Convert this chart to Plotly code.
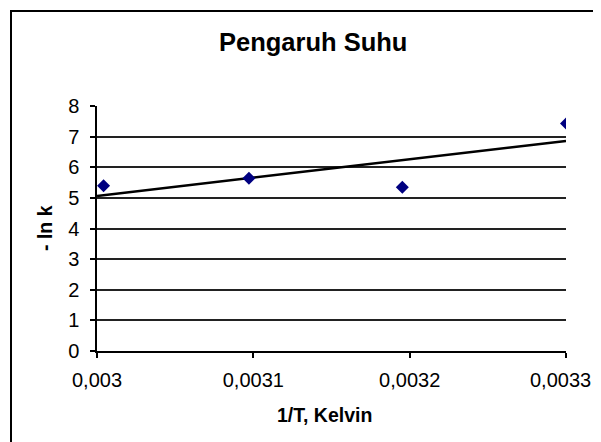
import numpy as np
import plotly.graph_objects as go

inv_T = [0.0030042, 0.0030972, 0.0031953, 0.0033003]
neg_ln_k = [5.40, 5.64, 5.35, 7.43]
x_tickvals = [0.003, 0.0031, 0.0032, 0.0033]
x_ticktext = ["0,003", "0,0031", "0,0032", "0,0033"]
y_tickvals = [0, 1, 2, 3, 4, 5, 6, 7, 8]

slope, intercept = np.polyfit(inv_T, neg_ln_k, 1)
trend_x = [0.003, 0.0033]
trend_y = [slope * v + intercept for v in trend_x]

FONT = "Liberation Sans, Arial, sans-serif"

fig = go.Figure()
fig.add_trace(go.Scatter(x=trend_x, y=trend_y, mode="lines",
                         line=dict(color="black", width=2.5), showlegend=False, hoverinfo="skip"))
fig.add_trace(go.Scatter(x=inv_T, y=neg_ln_k, mode="markers",
                         marker=dict(symbol="diamond", size=10, color="#000080"),
                         showlegend=False))

OFF = 8  # page body margin
W, H = 601 - 2 * OFF, 442 - OFF
L, R, T, B = 97 - OFF, 566 - OFF, 106 - OFF, 351 - OFF
pw, ph = R - L, B - T

def px(x):
    return (x - OFF - L) / pw

def py(y):
    return (B - (y - OFF)) / ph

# last tick label drawn as a right-anchored annotation so it stays inside the page
shown_ticktext = x_ticktext[:-1] + [""]

fig.update_layout(
    width=W, height=H,
    margin=dict(l=L, r=W - R, t=T, b=H - B),
    paper_bgcolor="white", plot_bgcolor="white",
    font=dict(family=FONT, color="black", size=20),
    xaxis=dict(range=[0.003, 0.0033], tickvals=x_tickvals, ticktext=shown_ticktext,
               showgrid=False, zeroline=False, showline=True, linecolor="black", linewidth=1.5,
               ticks="outside", ticklen=5, tickcolor="black", tickwidth=1.5,
               tickfont=dict(size=20, family=FONT), ticklabelstandoff=5),
    yaxis=dict(range=[0, 8], tickvals=y_tickvals,
               showgrid=True, gridcolor="#222222", gridwidth=1.5, zeroline=False,
               showline=True, linecolor="black", linewidth=1.5,
               ticks="outside", ticklen=5, tickcolor="black", tickwidth=1.5,
               tickfont=dict(size=20, family=FONT), ticklabelstandoff=7),
    shapes=[dict(type="rect", xref="paper", yref="paper",
                 x0=px(11), y0=py(460), x1=px(620), y1=py(11),
                 line=dict(color="black", width=2), fillcolor="rgba(0,0,0,0)", layer="below")],
    annotations=[
        dict(text="<b>Pengaruh Suhu</b>", xref="paper", yref="paper", x=px(313), y=py(42),
             xanchor="center", yanchor="middle", showarrow=False, font=dict(size=25.5, family=FONT)),
        dict(text="<b>1/T, Kelvin</b>", xref="paper", yref="paper", x=px(324), y=py(415),
             xanchor="center", yanchor="middle", showarrow=False, font=dict(size=19.5, family=FONT)),
        dict(text="<b>- ln k</b>", xref="paper", yref="paper", x=px(45), y=py(228),
             xanchor="center", yanchor="middle", showarrow=False, textangle=-90,
             font=dict(size=19.5, family=FONT)),
        dict(text=x_ticktext[-1], xref="paper", yref="paper", x=px(592), y=py(380),
             xanchor="right", yanchor="middle", showarrow=False, borderpad=0,
             font=dict(size=20, family=FONT)),
    ],
)

fig.write_html("out.html")
